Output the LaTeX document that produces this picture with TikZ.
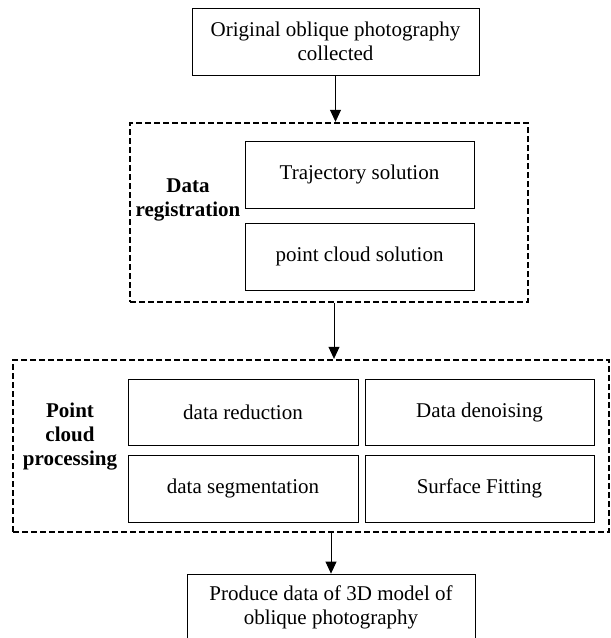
\documentclass[tikz,border=0pt]{standalone}
\usepackage{fontspec}
\setmainfont{Liberation Serif}
\usetikzlibrary{arrows.meta,calc}
\begin{document}
\begin{tikzpicture}[x=1pt,y=-1pt,
  every node/.style={font=\fontsize{21}{24}\selectfont},
  box/.style={draw, line width=0.8pt, inner sep=0pt, align=center},
  group/.style={draw, dash pattern=on 6pt off 3pt, line width=2.4pt, inner sep=0pt},
  grouptitle/.style={font=\fontsize{21}{24}\selectfont\bfseries, align=center},
  flow/.style={-{Triangle[length=12pt,width=11pt]}, line width=0.8pt}
]
\clip (0,0) rectangle (611,638);

% source data
\node[box, minimum width=287pt, minimum height=67pt] (src) at (335.5,41.5)
  {Original oblique photography\\collected};

% data registration stage
\node[group, minimum width=398pt, minimum height=179pt] (reg) at (329,212.5) {};
\node[box, minimum width=229pt, minimum height=67pt] (traj) at (359.5,174.5) {Trajectory solution};
\node[box, minimum width=229pt, minimum height=67pt] (pcs) at (359.5,256.5) {point cloud solution};
\node[grouptitle] (regtitle) at (188,200) {Data\\registration};

% point cloud processing stage
\node[group, minimum width=596pt, minimum height=172pt] (proc) at (311,446) {};
\node[box, minimum width=230pt, minimum height=66pt] (red) at (243,412) {data reduction};
\node[box, minimum width=229pt, minimum height=66pt] (den) at (479.5,412) {Data denoising};
\node[box, minimum width=230pt, minimum height=67pt] (seg) at (243,488.5) {data segmentation};
\node[box, minimum width=229pt, minimum height=67pt] (fit) at (479.5,488.5) {Surface Fitting};
\node[grouptitle] (proctitle) at (70,437) {Point\\cloud\\processing};

% result
\node[box, minimum width=288pt, minimum height=90pt] (out) at (331,619) {};
\node[align=center, inner sep=0pt] (outtext) at (331,607)
  {Produce data of 3D model of\\oblique photography};

% flow between stages
\coordinate (regout) at ($(reg.south)+(5,0)$);
\draw[flow] (src.south) -- (src.south |- reg.north);
\draw[flow] (regout) -- (regout |- proc.north);
\draw[flow] (out.north |- proc.south) -- (out.north);
\end{tikzpicture}
\end{document}
